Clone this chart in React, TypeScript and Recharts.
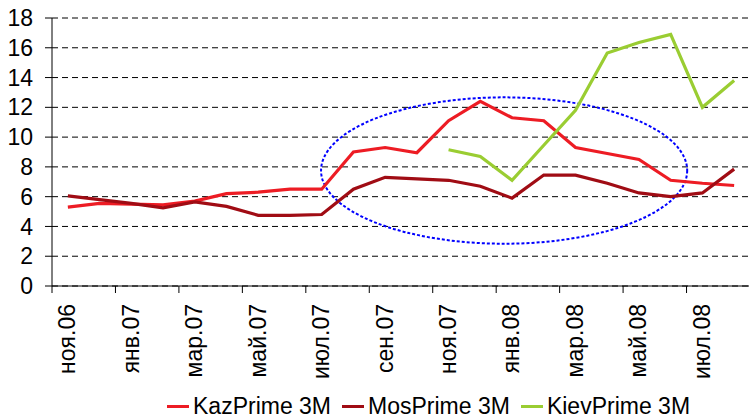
import React from 'react';
import { LineChart, Line, XAxis, YAxis, CartesianGrid, ReferenceArea } from 'recharts';

const months = [
  'ноя.06', 'дек.06', 'янв.07', 'фев.07', 'мар.07', 'апр.07', 'май.07', 'июн.07',
  'июл.07', 'авг.07', 'сен.07', 'окт.07', 'ноя.07', 'дек.07', 'янв.08', 'фев.08',
  'мар.08', 'апр.08', 'май.08', 'июн.08', 'июл.08', 'авг.08',
];
const kazPrime = [5.3, 5.55, 5.5, 5.45, 5.7, 6.2, 6.3, 6.5, 6.5, 9.0, 9.3, 8.95, 11.1, 12.4, 11.3, 11.1, 9.3, 8.9, 8.5, 7.1, 6.9, 6.75];
const mosPrime = [6.05, 5.8, 5.55, 5.25, 5.65, 5.35, 4.75, 4.75, 4.8, 6.5, 7.3, 7.2, 7.1, 6.7, 5.9, 7.45, 7.45, 6.9, 6.25, 6.0, 6.25, 7.85];
const kievPrime = [null, null, null, null, null, null, null, null, null, null, null, null, 9.15, 8.7, 7.1, 9.45, 11.8, 15.65, 16.35, 16.9, 12.0, 13.8];
const yTicks = [0, 2, 4, 6, 8, 10, 12, 14, 16, 18];
// highlighted zone (index / value units)
const zoneX = [7.98, 19.52];
const zoneY = [2.84, 12.67];

const series = [
  { key: 'kaz', name: 'KazPrime 3M', color: '#ED1C24' },
  { key: 'mos', name: 'MosPrime 3M', color: '#A00C14' },
  { key: 'kiev', name: 'KievPrime 3M', color: '#9ACD32' },
];

const data = months.map((m, i) => ({ idx: i, month: m, kaz: kazPrime[i], mos: mosPrime[i], kiev: kievPrime[i] }));
const labelIdx = months.map((_, i) => i).filter((i) => i % 2 === 0);

const W = 750;
const H = 418;
const Y_W = 52;
const TOP = 18;
const X_H = 132;
const FONT = '"Liberation Sans", Arial, sans-serif';
const HALF = (W - Y_W) / months.length / 2;

function MonthTick(props: any) {
  const { x, y, payload } = props;
  return (
    <g>
      <line x1={x - HALF} y1={y} x2={x - HALF} y2={y + 7} stroke="#000" />
      <text
        x={x + 7.4}
        y={y + 18}
        transform={`rotate(-90, ${x + 7.4}, ${y + 18})`}
        textAnchor="end"
        fontSize={23}
        fontFamily={FONT}
        fill="#000"
      >
        {months[payload.value]}
      </text>
    </g>
  );
}

function Zone(props: any) {
  const { x, y, width, height } = props;
  return (
    <ellipse
      cx={x + width / 2}
      cy={y + height / 2}
      rx={width / 2}
      ry={height / 2}
      fill="none"
      stroke="#0000FF"
      strokeWidth={2}
      strokeDasharray="3 2"
    />
  );
}

export default function App() {
  return (
    <div style={{ position: 'absolute', left: 0, top: 0, width: 749, height: 418, overflow: 'hidden', background: '#fff' }}>
      <LineChart width={W} height={H} data={data} margin={{ top: TOP, right: 0, left: 0, bottom: 0 }}>
        <CartesianGrid vertical={false} stroke="#000" strokeDasharray="6 4" />
        <XAxis
          type="number"
          dataKey="idx"
          domain={[-0.5, months.length - 0.5]}
          ticks={labelIdx}
          interval={0}
          height={X_H}
          tickSize={0}
          tickMargin={0}
          tickLine={false}
          axisLine={{ stroke: '#000' }}
          tick={<MonthTick />}
          allowDataOverflow
        />
        <YAxis
          domain={[0, 18]}
          ticks={yTicks}
          interval={0}
          width={Y_W}
          tickSize={7}
          tickMargin={12}
          axisLine={{ stroke: '#000' }}
          tickLine={{ stroke: '#000' }}
          tick={{ fontSize: 23, fontFamily: FONT, fill: '#000' }}
        />
        <ReferenceArea x1={zoneX[0]} x2={zoneX[1]} y1={zoneY[0]} y2={zoneY[1]} shape={<Zone />} />
        {series.map((s) => (
          <Line
            key={s.key}
            type="linear"
            dataKey={s.key}
            name={s.name}
            stroke={s.color}
            strokeWidth={3.2}
            dot={false}
            activeDot={false}
            isAnimationActive={false}
          />
        ))}
      </LineChart>
      <div
        style={{
          position: 'absolute',
          left: 167,
          top: 396,
          height: 21,
          display: 'flex',
          alignItems: 'center',
          fontFamily: FONT,
          fontSize: 23,
          lineHeight: '21px',
          color: '#000',
          whiteSpace: 'nowrap',
        }}
      >
        {series.map((s) => (
          <div key={s.key} style={{ display: 'flex', alignItems: 'center', marginRight: 11 }}>
            <span style={{ display: 'inline-block', width: 22, height: 3, background: s.color, marginRight: 4 }} />
            <span>{s.name}</span>
          </div>
        ))}
      </div>
    </div>
  );
}
